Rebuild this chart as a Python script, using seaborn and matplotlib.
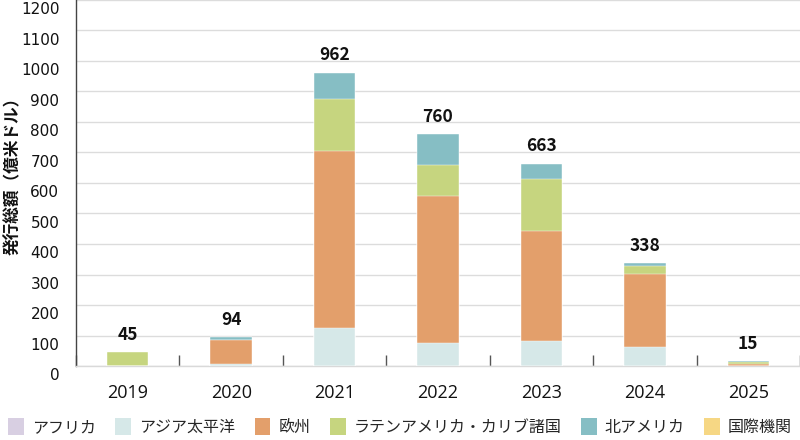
import matplotlib
matplotlib.use("Agg")
import matplotlib.pyplot as plt
from matplotlib.patches import Patch
from matplotlib.transforms import ScaledTranslation
import seaborn as sns
import pandas as pd
import numpy as np

years = ["2019", "2020", "2021", "2022", "2023", "2024", "2025"]
series_names = ["アフリカ", "アジア太平洋", "欧州", "ラテンアメリカ・カリブ諸国", "北アメリカ", "国際機関"]
africa = [0, 0, 0, 0, 0, 0, 0]
asia_pacific = [0, 7, 123, 75, 82, 61, 0]
europe = [0, 79, 583, 484, 359, 240, 7]
latam = [45, 0, 170, 101, 172, 27, 6]
north_america = [0, 8, 86, 100, 50, 10, 2]
intl = [0, 0, 0, 0, 0, 0, 0]
totals = [45, 94, 962, 760, 663, 338, 15]
yticks = list(range(0, 1300, 100))

colors = ["#D8CFE2", "#D6E8E8", "#E39F6B", "#C6D57F", "#86BEC4", "#F6D784"]

sns.set_theme(style="white")
plt.rcParams["font.family"] = ["Noto Sans CJK JP", "DejaVu Sans"]

fig = plt.figure(figsize=(8, 4.4), dpi=100)
ax = fig.add_axes([76 / 800, 74 / 440, 724 / 800, 366 / 440])

layers = [africa, asia_pacific, europe, latam, north_america, intl]
cum = np.cumsum(np.array(layers), axis=0)

# draw from the top layer down so each lower cumulative bar overlays
for i in range(len(layers) - 1, -1, -1):
    df = pd.DataFrame({"year": years, "value": cum[i]})
    sns.barplot(data=df, x="year", y="value", order=years, color=colors[i],
                saturation=1, width=0.4, edgecolor="white", linewidth=0.3,
                ax=ax, zorder=3)

ax.bar_label(ax.containers[0], labels=[str(t) for t in totals], padding=6,
             fontsize=12.5, fontweight="bold", color="#111111")

ax.set_xlim(-0.5, len(years) - 0.5)
ax.set_ylim(0, 1200)
ax.set_yticks(yticks)
ax.set_yticklabels([str(t) for t in yticks])
ax.grid(axis="y", color="#DCDCDC", linewidth=1, zorder=0)
ax.set_axisbelow(True)

for s in ["top", "right"]:
    ax.spines[s].set_visible(False)
ax.spines["left"].set_color("#444444")
ax.spines["left"].set_linewidth(1)
ax.spines["bottom"].set_color("#D9D9D9")
ax.spines["bottom"].set_linewidth(1)

ax.set_xticks(np.arange(-0.5, len(years), 1.0), minor=True)
ax.tick_params(axis="x", which="major", bottom=False, length=0, pad=13, labelsize=13, labelcolor="#111111")
ax.tick_params(axis="x", which="minor", bottom=True, direction="in", length=8, width=1, color="#555555")
ax.tick_params(axis="y", which="major", left=False, length=0, pad=12, labelsize=11, labelcolor="#111111")

for lab in ax.get_xticklabels():
    lab.set_fontfamily(["Open Sans", "DejaVu Sans"])
for lab in ax.get_yticklabels():
    lab.set_fontfamily(["DejaVu Sans"])
    lab.set_transform(lab.get_transform() + ScaledTranslation(0, -6 / 72, fig.dpi_scale_trans))

ax.set_xlabel("")
ax.set_ylabel("発行総額（億米ドル）", fontsize=12, fontweight="bold", color="#111111")
ax.yaxis.set_label_coords(-0.074, 0.53)

handles = [Patch(facecolor=c, edgecolor="none") for c in colors]
fig.legend(handles, series_names, loc="center", bbox_to_anchor=(0.5, 13 / 440), ncol=6,
           frameon=False, fontsize=11.5, handlelength=1.0, handleheight=1.3,
           handletextpad=0.5, columnspacing=1.2, borderaxespad=0)

fig.savefig("out.png", dpi=100)
